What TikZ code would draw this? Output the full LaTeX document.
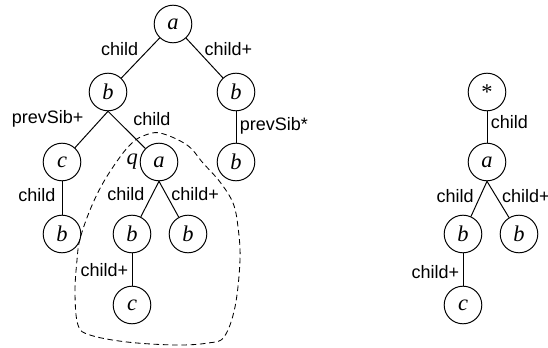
\documentclass[tikz,border=0pt]{standalone}
\usepackage{fontspec}
\setmainfont{Liberation Serif}
\setsansfont{Liberation Sans}
\begin{document}
\begin{tikzpicture}[
    vert/.style = {circle, draw, line width=.7pt, minimum size=.94cm, inner sep=0pt, font=\fontsize{16}{16}\selectfont\itshape},
    lbl/.style = {font=\fontsize{12.8}{13}\selectfont\sffamily, inner sep=1pt},
    every path/.style = {line width=.7pt},
]

    \useasboundingbox (0,0) rectangle (13.7,8.675);

    % pattern tree
    \node [vert] (a1) at (4.325,8.075) {a};
    \node [vert] (b1) at (2.7,6.375) {b};
    \node [vert] (b2) at (5.9,6.375) {b};
    \node [vert] (c1) at (1.55,4.625) {c};
    \node [vert, label={[inner sep=1pt, font=\fontsize{16}{16}\selectfont\itshape]178:q}] (a2) at (3.975,4.625) {a};
    \node [vert] (b3) at (5.9,4.625) {b};
    \node [vert] (b4) at (1.55,2.825) {b};
    \node [vert] (b5) at (3.3,2.825) {b};
    \node [vert] (b6) at (4.7,2.825) {b};
    \node [vert] (c2) at (3.3,1.05) {c};

    \draw (a1) -- node [lbl, left=.22cm, pos=.28] {child} (b1);
    \draw (a1) -- node [lbl, right=.16cm, pos=.28] {child+} (b2);
    \draw (b1.south) -- node [lbl, left=.4cm, pos=.2] {prevSib+} (c1);
    \draw (b1.south) -- node [lbl, right=.4cm, pos=.2] {child} (a2);
    \draw (b2) -- node [lbl, right=.05cm, pos=.45] {prevSib*} (b3);
    \draw (c1) -- node [lbl, left=.12cm, pos=.42] {child} (b4);
    \draw (a2.south) -- node [lbl, left=.15cm, pos=.37] {child} (b5);
    \draw (a2.south) -- node [lbl, right=.08cm, pos=.37] {child+} (b6);
    \draw (b5) -- node [lbl, left=.05cm, pos=.52] {child+} (c2);

    % subtree under q
    \draw [dash pattern=on 4pt off 2.6pt, line width=.6pt] plot [smooth cycle, tension=.6] coordinates {
        (4.0,5.35) (4.675,5.05) (5.075,4.6) (5.5,4.125) (5.825,3.6) (5.95,3.0)
        (6.0,2.175) (5.875,1.0) (5.6,0.25) (5.2,0.1) (4.4,0.05) (3.175,0.125)
        (2.25,0.3) (1.95,0.55) (1.875,1.35) (1.925,2.175) (2.0,2.7) (2.25,3.425)
        (2.575,4.1) (3.0,4.75) (3.3,5.1) (3.575,5.275)};

    % query tree
    \node [vert, font=\fontsize{16}{16}\selectfont] (s) at (12.175,6.375) {*};
    \node [vert] (a3) at (12.175,4.625) {a};
    \node [vert] (b7) at (11.575,2.825) {b};
    \node [vert] (b8) at (12.975,2.825) {b};
    \node [vert] (c3) at (11.575,1.05) {c};

    \draw (s) -- node [lbl, right=.05cm, pos=.35] {child} (a3);
    \draw (a3.south) -- node [lbl, left=.12cm, pos=.42] {child} (b7);
    \draw (a3.south) -- node [lbl, right=.1cm, pos=.42] {child+} (b8);
    \draw (b7) -- node [lbl, left=.05cm, pos=.58] {child+} (c3);

\end{tikzpicture}
\end{document}
